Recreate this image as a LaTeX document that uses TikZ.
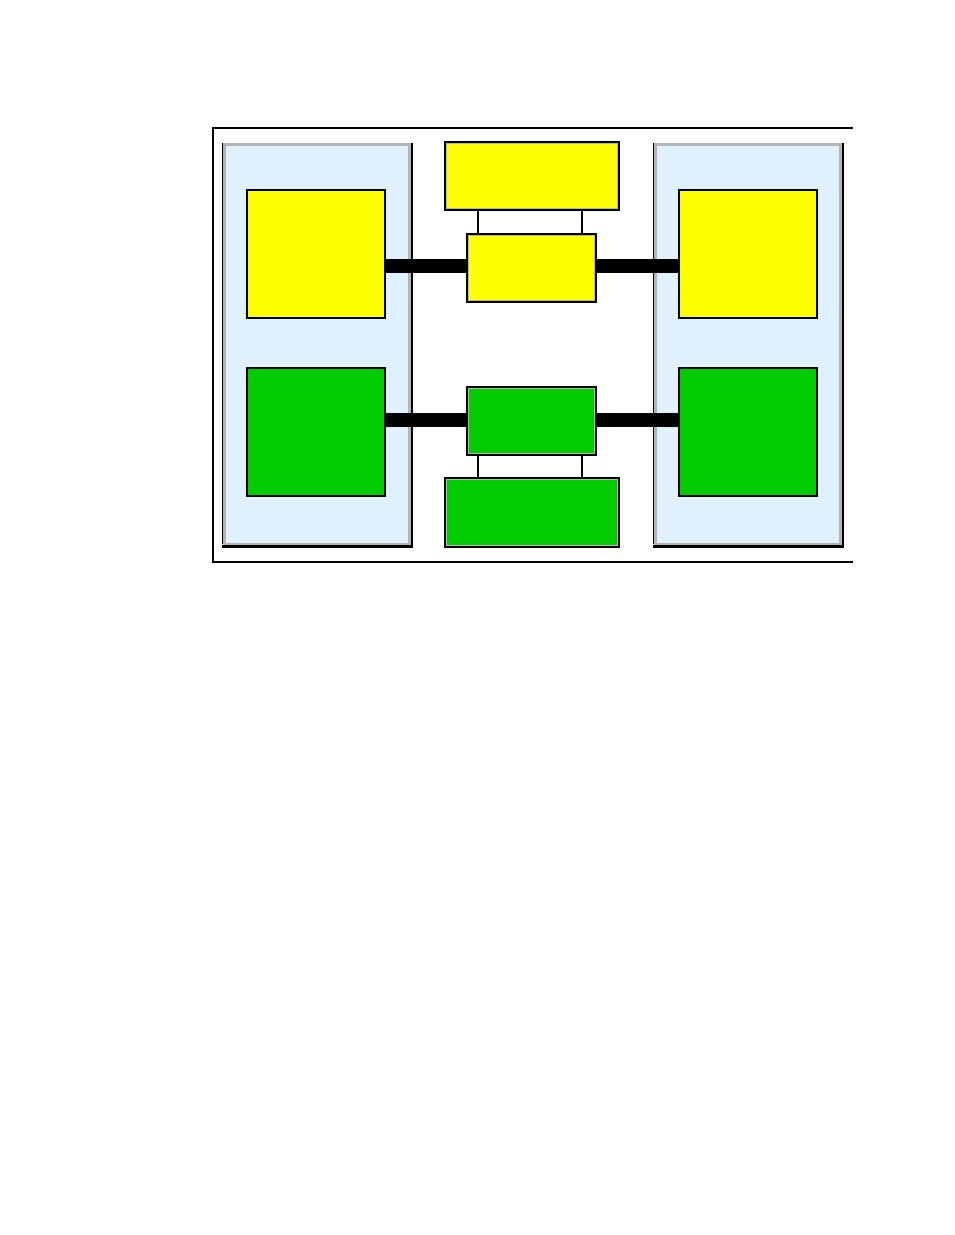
\documentclass[tikz,border=0pt]{standalone}
\usetikzlibrary{positioning}
\definecolor{panelblue}{HTML}{DFF0FF}
\definecolor{rimgray}{HTML}{B4B4B4}
\definecolor{unityellow}{HTML}{FFFF00}
\definecolor{unitgreen}{HTML}{00CC00}
\begin{document}
\begin{tikzpicture}[x=0.75pt,y=-0.75pt,
    panel/.style={draw=rimgray, line width=3*0.75pt, fill=panelblue, inner sep=0pt, outer sep=0pt,
        minimum width=185*0.75pt, minimum height=399.5*0.75pt},
    unit/.style={draw=black, line width=1.5*0.75pt, inner sep=0pt,
        minimum width=138*0.75pt, minimum height=128*0.75pt},
    hub/.style={draw=black, line width=1.5*0.75pt, inner sep=0pt,
        path picture={\draw[rimgray, line width=4*0.75pt]
            (path picture bounding box.south west) rectangle (path picture bounding box.north east);}},
    bus/.style={line width=14*0.75pt},
    tap/.style={line width=1.5*0.75pt}]
    \useasboundingbox (0,0) rectangle (954,1235);
    % outer frame, open on the right
    \draw[line width=1.5*0.75pt] (853,128) -- (213,128) -- (213,562) -- (853,562);
    % side panels
    \node[panel] (lpanel) at (317,344.25) {};
    \node[panel] (rpanel) at (748,344.25) {};
    \foreach \p in {lpanel,rpanel} {
        \draw[line width=1.5*0.75pt] ([xshift=-2.25*0.75pt,yshift=1.5*0.75pt]\p.north west)
            -- ([xshift=-2.25*0.75pt]\p.south west);
        \draw[line width=2.75*0.75pt] ([xshift=2.6*0.75pt,yshift=1.5*0.75pt]\p.north east)
            -- ([xshift=2.6*0.75pt,yshift=-2.75*0.75pt]\p.south east)
            -- ([xshift=-3*0.75pt,yshift=-2.75*0.75pt]\p.south west);
    }
    % units inside panels
    \node[unit, fill=unityellow] (lyellow) at (316,254) {};
    \node[unit, fill=unityellow] (ryellow) at (748,254) {};
    \node[unit, fill=unitgreen] (lgreen) at (316,432) {};
    \node[unit, fill=unitgreen] (rgreen) at (748,432) {};
    % centre hubs
    \node[hub, fill=unityellow, minimum width=174*0.75pt, minimum height=68*0.75pt] (tyellow) at (532,176) {};
    \node[hub, fill=unityellow, minimum width=129*0.75pt, minimum height=68*0.75pt] (myellow) at (531.5,268) {};
    \node[hub, fill=unitgreen, minimum width=129*0.75pt, minimum height=68*0.75pt] (mgreen) at (531.5,421) {};
    \node[hub, fill=unitgreen, minimum width=174*0.75pt, minimum height=69*0.75pt] (bgreen) at (532,512.5) {};
    % buses
    \coordinate (ybus) at (0,266);
    \coordinate (gbus) at (0,420);
    \draw[bus] (lyellow.east |- ybus) -- (myellow.west |- ybus);
    \draw[bus] (myellow.east |- ybus) -- (ryellow.west |- ybus);
    \draw[bus] (lgreen.east |- gbus) -- (mgreen.west |- gbus);
    \draw[bus] (mgreen.east |- gbus) -- (rgreen.west |- gbus);
    % taps
    \foreach \x in {478,582} {
        \draw[tap] (tyellow.south -| \x,0) -- (myellow.north -| \x,0);
        \draw[tap] (mgreen.south -| \x,0) -- (bgreen.north -| \x,0);
    }
\end{tikzpicture}
\end{document}
